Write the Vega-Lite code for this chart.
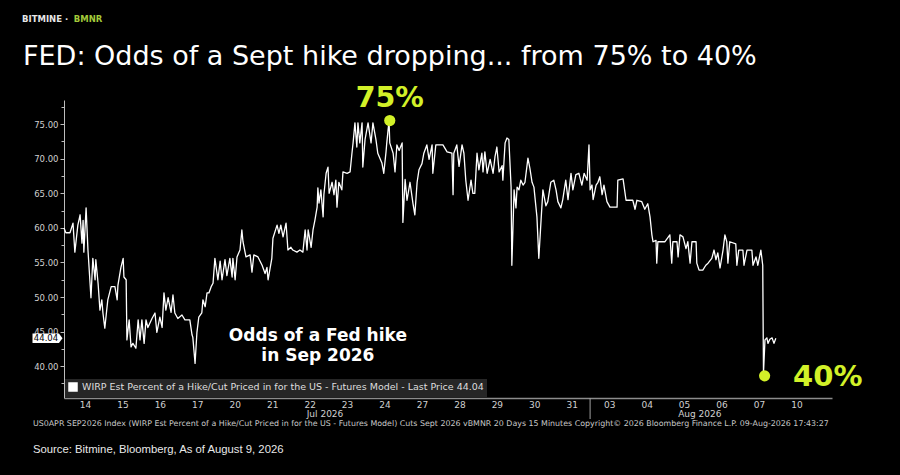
{
  "$schema": "https://vega.github.io/schema/vega-lite/v6.json",
  "autosize": {"type": "none"},
  "width": 768,
  "height": 298,
  "padding": {"left": 64, "top": 100, "right": 68, "bottom": 77},
  "background": "#000000",
  "config": {"view": {"stroke": null}},
  "title": {
    "text": "FED: Odds of a Sept hike dropping... from 75% to 40%",
    "anchor": "start",
    "frame": "group",
    "font": "DejaVu Sans",
    "fontSize": 27,
    "fontWeight": "normal",
    "color": "#ffffff",
    "baseline": "alphabetic",
    "offset": 0,
    "dx": -41,
    "dy": 77
  },
  "resolve": {"axis": {"y": "independent"}},
  "layer": [
    {
      "layer": [
        {
          "data": {"values": [
            {"t":0.00,"v":60.0},{"t":0.05,"v":59.3},{"t":0.16,"v":59.3},{"t":0.24,"v":60.7},{"t":0.29,"v":56.5},
            {"t":0.37,"v":60.4},{"t":0.43,"v":61.9},{"t":0.48,"v":57.8},{"t":0.51,"v":61.1},{"t":0.53,"v":56.5},
            {"t":0.59,"v":62.9},{"t":0.64,"v":56.8},{"t":0.69,"v":52.5},{"t":0.72,"v":49.9},{"t":0.77,"v":55.6},
            {"t":0.83,"v":52.5},{"t":0.85,"v":55.4},{"t":0.91,"v":52.0},{"t":0.96,"v":48.1},{"t":1.01,"v":49.6},
            {"t":1.04,"v":47.7},{"t":1.09,"v":45.5},{"t":1.15,"v":48.6},{"t":1.17,"v":49.6},{"t":1.26,"v":51.5},
            {"t":1.36,"v":51.5},{"t":1.42,"v":49.6},{"t":1.44,"v":51.7},{"t":1.52,"v":54.3},{"t":1.58,"v":55.6},
            {"t":1.60,"v":52.9},{"t":1.66,"v":52.5},{"t":1.68,"v":43.8},{"t":1.74,"v":46.7},{"t":1.79,"v":42.8},
            {"t":1.84,"v":43.3},{"t":1.92,"v":42.6},{"t":1.98,"v":46.7},{"t":2.03,"v":43.8},{"t":2.08,"v":46.7},
            {"t":2.14,"v":43.3},{"t":2.19,"v":46.7},{"t":2.24,"v":45.6},{"t":2.35,"v":46.9},{"t":2.43,"v":47.7},
            {"t":2.48,"v":44.9},{"t":2.56,"v":47.1},{"t":2.62,"v":45.6},{"t":2.67,"v":50.6},{"t":2.72,"v":48.1},
            {"t":2.78,"v":49.9},{"t":2.86,"v":47.8},{"t":2.91,"v":50.3},{"t":2.96,"v":47.7},{"t":3.04,"v":46.9},
            {"t":3.15,"v":47.4},{"t":3.23,"v":46.7},{"t":3.36,"v":46.7},{"t":3.42,"v":44.5},{"t":3.44,"v":44.2},
            {"t":3.50,"v":40.4},{"t":3.55,"v":44.9},{"t":3.60,"v":47.1},{"t":3.68,"v":47.7},{"t":3.71,"v":49.6},
            {"t":3.77,"v":48.6},{"t":3.82,"v":50.6},{"t":3.87,"v":50.6},{"t":3.93,"v":51.5},{"t":3.98,"v":52.0},
            {"t":4.03,"v":55.6},{"t":4.11,"v":52.5},{"t":4.17,"v":55.2},{"t":4.22,"v":52.5},{"t":4.30,"v":55.4},
            {"t":4.35,"v":53.1},{"t":4.43,"v":55.6},{"t":4.49,"v":52.9},{"t":4.51,"v":55.6},{"t":4.57,"v":52.5},
            {"t":4.62,"v":55.8},{"t":4.70,"v":56.8},{"t":4.75,"v":59.7},{"t":4.78,"v":58.0},{"t":4.86,"v":55.8},
            {"t":4.97,"v":56.1},{"t":5.02,"v":53.6},{"t":5.07,"v":56.1},{"t":5.18,"v":55.8},{"t":5.29,"v":54.6},
            {"t":5.37,"v":53.4},{"t":5.42,"v":54.3},{"t":5.45,"v":52.5},{"t":5.55,"v":55.6},{"t":5.58,"v":58.5},
            {"t":5.69,"v":60.4},{"t":5.74,"v":59.2},{"t":5.79,"v":60.4},{"t":5.85,"v":58.7},{"t":5.93,"v":60.7},
            {"t":5.98,"v":56.8},{"t":6.06,"v":57.2},{"t":6.11,"v":56.8},{"t":6.22,"v":56.5},{"t":6.30,"v":56.8},
            {"t":6.38,"v":56.5},{"t":6.44,"v":59.7},{"t":6.49,"v":56.8},{"t":6.52,"v":59.7},{"t":6.60,"v":57.2},
            {"t":6.65,"v":59.7},{"t":6.70,"v":61.1},{"t":6.76,"v":63.0},{"t":6.78,"v":65.8},{"t":6.81,"v":63.6},
            {"t":6.86,"v":65.5},{"t":6.92,"v":61.6},{"t":6.94,"v":64.8},{"t":7.00,"v":67.9},{"t":7.05,"v":68.8},
            {"t":7.08,"v":65.0},{"t":7.16,"v":66.6},{"t":7.21,"v":64.8},{"t":7.26,"v":66.9},{"t":7.29,"v":63.0},
            {"t":7.34,"v":66.6},{"t":7.42,"v":65.5},{"t":7.45,"v":68.1},{"t":7.56,"v":67.9},{"t":7.64,"v":68.1},
            {"t":7.69,"v":70.8},{"t":7.72,"v":72.3},{"t":7.77,"v":75.2},{"t":7.82,"v":71.7},{"t":7.85,"v":75.2},
            {"t":7.90,"v":72.3},{"t":7.96,"v":75.2},{"t":7.98,"v":68.8},{"t":8.04,"v":72.8},{"t":8.12,"v":75.2},
            {"t":8.20,"v":72.3},{"t":8.25,"v":75.2},{"t":8.33,"v":72.8},{"t":8.38,"v":70.8},{"t":8.49,"v":69.4},
            {"t":8.54,"v":67.9},{"t":8.60,"v":71.0},{"t":8.62,"v":72.3},{"t":8.68,"v":75.5},{"t":8.70,"v":72.3},
            {"t":8.79,"v":70.8},{"t":8.84,"v":68.1},{"t":8.89,"v":72.0},{"t":8.95,"v":71.2},{"t":9.03,"v":72.3},
            {"t":9.05,"v":60.8},{"t":9.11,"v":67.0},{"t":9.16,"v":64.0},{"t":9.24,"v":66.6},{"t":9.32,"v":63.5},
            {"t":9.37,"v":61.9},{"t":9.43,"v":66.6},{"t":9.48,"v":68.4},{"t":9.56,"v":69.3},{"t":9.61,"v":70.8},
            {"t":9.69,"v":72.0},{"t":9.75,"v":69.9},{"t":9.83,"v":72.0},{"t":9.85,"v":67.9},{"t":9.93,"v":72.0},
            {"t":10.12,"v":72.0},{"t":10.23,"v":71.0},{"t":10.36,"v":70.8},{"t":10.39,"v":64.8},{"t":10.41,"v":70.8},
            {"t":10.49,"v":72.0},{"t":10.55,"v":68.9},{"t":10.63,"v":72.0},{"t":10.68,"v":70.8},{"t":10.73,"v":66.9},
            {"t":10.79,"v":64.0},{"t":10.87,"v":66.9},{"t":10.92,"v":65.0},{"t":10.97,"v":65.0},{"t":11.03,"v":70.8},
            {"t":11.08,"v":68.4},{"t":11.16,"v":70.8},{"t":11.19,"v":68.1},{"t":11.24,"v":71.0},{"t":11.30,"v":67.9},
            {"t":11.38,"v":69.9},{"t":11.46,"v":67.9},{"t":11.51,"v":70.3},{"t":11.56,"v":71.7},{"t":11.62,"v":68.1},
            {"t":11.70,"v":69.0},{"t":11.72,"v":66.9},{"t":11.78,"v":72.3},{"t":11.83,"v":73.0},{"t":11.88,"v":72.8},
            {"t":11.94,"v":65.9},{"t":11.96,"v":54.6},{"t":12.02,"v":65.5},{"t":12.07,"v":62.9},{"t":12.10,"v":65.9},
            {"t":12.15,"v":65.5},{"t":12.20,"v":66.9},{"t":12.26,"v":66.2},{"t":12.31,"v":66.6},{"t":12.39,"v":70.1},
            {"t":12.44,"v":68.7},{"t":12.50,"v":66.6},{"t":12.55,"v":65.9},{"t":12.63,"v":61.6},{"t":12.68,"v":55.6},
            {"t":12.76,"v":62.9},{"t":12.79,"v":65.5},{"t":12.87,"v":63.2},{"t":12.92,"v":63.8},{"t":13.00,"v":66.6},
            {"t":13.08,"v":66.9},{"t":13.14,"v":65.5},{"t":13.19,"v":63.8},{"t":13.27,"v":62.9},{"t":13.32,"v":64.1},
            {"t":13.40,"v":66.9},{"t":13.46,"v":64.1},{"t":13.54,"v":67.9},{"t":13.59,"v":65.5},{"t":13.67,"v":67.7},
            {"t":13.75,"v":67.9},{"t":13.83,"v":66.2},{"t":13.89,"v":67.9},{"t":13.97,"v":66.9},{"t":14.02,"v":72.0},
            {"t":14.05,"v":65.5},{"t":14.10,"v":66.2},{"t":14.13,"v":64.1},{"t":14.21,"v":66.2},{"t":14.26,"v":66.6},
            {"t":14.31,"v":67.4},{"t":14.37,"v":64.8},{"t":14.42,"v":66.2},{"t":14.50,"v":63.8},{"t":14.58,"v":63.0},
            {"t":14.77,"v":63.0},{"t":14.79,"v":66.9},{"t":14.93,"v":67.1},{"t":15.01,"v":64.0},{"t":15.19,"v":64.0},
            {"t":15.25,"v":62.7},{"t":15.30,"v":64.0},{"t":15.43,"v":63.8},{"t":15.51,"v":62.7},{"t":15.59,"v":63.5},
            {"t":15.65,"v":61.6},{"t":15.70,"v":59.0},{"t":15.73,"v":58.0},{"t":15.81,"v":58.2},{"t":15.83,"v":54.9},
            {"t":15.86,"v":58.0},{"t":16.05,"v":58.0},{"t":16.18,"v":59.0},{"t":16.23,"v":54.9},{"t":16.26,"v":58.0},
            {"t":16.37,"v":58.0},{"t":16.40,"v":55.8},{"t":16.45,"v":59.0},{"t":16.53,"v":58.7},{"t":16.61,"v":57.0},
            {"t":16.66,"v":58.0},{"t":16.72,"v":54.9},{"t":16.77,"v":58.0},{"t":16.88,"v":58.0},{"t":16.90,"v":54.9},
            {"t":16.96,"v":53.9},{"t":17.06,"v":53.9},{"t":17.14,"v":54.6},{"t":17.20,"v":54.9},{"t":17.30,"v":55.6},
            {"t":17.36,"v":56.8},{"t":17.41,"v":55.4},{"t":17.46,"v":56.4},{"t":17.52,"v":54.2},{"t":17.60,"v":56.8},
            {"t":17.65,"v":59.0},{"t":17.70,"v":58.0},{"t":17.73,"v":54.9},{"t":17.78,"v":58.0},{"t":17.94,"v":57.7},
            {"t":17.97,"v":54.6},{"t":18.02,"v":56.8},{"t":18.13,"v":56.8},{"t":18.16,"v":54.6},{"t":18.24,"v":56.8},
            {"t":18.37,"v":56.8},{"t":18.40,"v":54.6},{"t":18.48,"v":55.8},{"t":18.53,"v":54.6},{"t":18.61,"v":56.8},
            {"t":18.66,"v":54.6},{"t":18.68,"v":39.0},{"t":18.72,"v":43.8},{"t":18.77,"v":44.1},{"t":18.80,"v":43.3},
            {"t":18.85,"v":43.9},{"t":18.91,"v":44.1},{"t":18.96,"v":43.3},{"t":19.01,"v":44.04}
          ]},
          "mark": {"type": "line", "strokeWidth": 1.3, "strokeJoin": "round", "interpolate": "linear"},
          "encoding": {
            "x": {
              "field": "t", "type": "quantitative",
              "scale": {"domain": [0, 20.51], "nice": false, "zero": false},
              "axis": {
                "title": null,
                "values": [0.56,1.56,2.56,3.56,4.56,5.56,6.56,7.56,8.56,9.56,10.56,11.56,12.56,13.56,14.56,15.56,16.56,17.56,18.56,19.56],
                "labelExpr": "['14','15','16','17','20','21','22','23','24','27','28','29','30','31','03','04','05','06','07','10'][round(datum.value - 0.56)]",
                "ticks": false, "grid": false,
                "domainColor": "#8c8c8c", "domainWidth": 1.5,
                "labelColor": "#d0d0d0", "labelFont": "DejaVu Sans", "labelFontSize": 9,
                "labelPadding": 2, "labelFlush": false, "labelOverlap": false
              }
            },
            "y": {
              "field": "v", "type": "quantitative",
              "scale": {"domain": [35.4, 78.5], "nice": false, "zero": false},
              "axis": {
                "title": null,
                "orient": "left",
                "values": [40, 45, 50, 55, 60, 65, 70, 75],
                "format": ".2f",
                "grid": false,
                "tickColor": "#bdbdbd", "tickSize": 4, "tickWidth": 1,
                "domainColor": "#bdbdbd", "domainWidth": 1,
                "labelColor": "#d0d0d0", "labelFont": "DejaVu Sans", "labelFontSize": 8.5,
                "labelPadding": 2, "labelOverlap": false, "labelFlush": false
              }
            },
            "color": {
              "datum": "WIRP Est Percent of a Hike/Cut Priced in for the US - Futures Model - Last Price 44.04",
              "scale": {"range": ["#ffffff"]},
              "legend": {
                "title": null,
                "orient": "bottom-left",
                "offset": 1,
                "padding": 3,
                "fillColor": "#262626",
                "symbolType": "square",
                "symbolSize": 64,
                "symbolFillColor": "#ffffff",
                "symbolStrokeColor": "#ffffff",
                "labelColor": "#dedede",
                "labelFont": "DejaVu Sans",
                "labelFontSize": 9.5,
                "labelLimit": 600,
                "labelOffset": 4
              }
            }
          }
        },
        {
          "data": {"values": [{}]},
          "mark": {"type": "rule", "color": "#a0a0a0", "strokeWidth": 1},
          "encoding": {"x": {"datum": 14.05}, "y": {"datum": 35.4}, "y2": {"datum": 32.36}}
        },
        {
          "data": {"values": [{}]},
          "mark": {"type": "point", "shape": "M-1,-0.32L0.76,-0.32L1,0L0.76,0.32L-1,0.32Z", "size": 900, "filled": true, "color": "#ffffff", "opacity": 1},
          "encoding": {"x": {"datum": -0.44}, "y": {"datum": 44.04}}
        },
        {
          "data": {"values": [{}]},
          "mark": {"type": "point", "shape": "circle", "size": 125, "filled": true, "color": "#d2f128", "opacity": 1},
          "encoding": {"x": {"datum": 8.70}, "y": {"datum": 75.53}}
        },
        {
          "data": {"values": [{}]},
          "mark": {"type": "point", "shape": "circle", "size": 125, "filled": true, "color": "#d2f128", "opacity": 1},
          "encoding": {"x": {"datum": 18.71}, "y": {"datum": 38.6}}
        },
        {
          "data": {"values": [{}]},
          "mark": {"type": "text", "font": "DejaVu Sans", "fontSize": 28.5, "fontWeight": "bold", "color": "#d2f128", "align": "center", "baseline": "alphabetic"},
          "encoding": {"x": {"datum": 8.70}, "y": {"datum": 77.49}, "text": {"value": "75%"}}
        },
        {
          "data": {"values": [{}]},
          "mark": {"type": "text", "font": "DejaVu Sans", "fontSize": 29, "fontWeight": "bold", "color": "#d2f128", "align": "left", "baseline": "alphabetic"},
          "encoding": {"x": {"datum": 19.47}, "y": {"datum": 37.13}, "text": {"value": "40%"}}
        },
        {
          "data": {"values": [{}]},
          "mark": {"type": "text", "font": "DejaVu Sans", "fontSize": 17, "fontWeight": "bold", "color": "#ffffff", "align": "center", "baseline": "middle", "lineHeight": 20},
          "encoding": {"x": {"datum": 6.78}, "y": {"datum": 44.35}, "text": {"value": ["Odds of a Fed hike", "in Sep 2026"]}}
        },
        {
          "data": {"values": [{}]},
          "mark": {"type": "text", "font": "DejaVu Sans", "fontSize": 9, "color": "#d0d0d0", "align": "center", "baseline": "middle"},
          "encoding": {"x": {"datum": 6.97}, "y": {"datum": 33.08}, "text": {"value": "Jul 2026"}}
        },
        {
          "data": {"values": [{}]},
          "mark": {"type": "text", "font": "DejaVu Sans", "fontSize": 9, "color": "#d0d0d0", "align": "center", "baseline": "middle"},
          "encoding": {"x": {"datum": 16.98}, "y": {"datum": 33.08}, "text": {"value": "Aug 2026"}}
        },
        {
          "data": {"values": [{}]},
          "mark": {"type": "text", "font": "DejaVu Sans", "fontSize": 7.9, "color": "#c8c8c8", "align": "left", "baseline": "middle"},
          "encoding": {"x": {"datum": -0.83}, "y": {"datum": 31.64}, "text": {"value": "US0APR SEP2026 Index (WIRP Est Percent of a Hike/Cut Priced in for the US - Futures Model) Cuts Sept 2026 vBMNR 20 Days 15 Minutes  Copyright© 2026 Bloomberg Finance L.P. 09-Aug-2026 17:43:27"}}
        },
        {
          "data": {"values": [{}]},
          "mark": {"type": "text", "font": "Liberation Sans", "fontSize": 11.3, "color": "#e8e8e8", "align": "left", "baseline": "middle"},
          "encoding": {"x": {"datum": -0.83}, "y": {"datum": 27.88}, "text": {"value": "Source: Bitmine, Bloomberg, As of August 9, 2026"}}
        },
        {
          "data": {"values": [{}]},
          "mark": {"type": "text", "font": "DejaVu Sans", "fontSize": 8.5, "fontWeight": "bold", "color": "#e6e6e6", "align": "left", "baseline": "middle"},
          "encoding": {"x": {"datum": -1.12}, "y": {"datum": 90.22}, "text": {"value": "BITMINE ·"}}
        },
        {
          "data": {"values": [{}]},
          "mark": {"type": "text", "font": "DejaVu Sans", "fontSize": 8.5, "fontWeight": "bold", "color": "#a2c93a", "align": "left", "baseline": "middle"},
          "encoding": {"x": {"datum": 0.26}, "y": {"datum": 90.22}, "text": {"value": "BMNR"}}
        }
      ]
    },
    {
      "data": {"values": [{}]},
      "mark": {"type": "text", "font": "DejaVu Sans", "fontSize": 8.5, "color": "#000000", "align": "center", "baseline": "middle"},
      "encoding": {
        "x": {"datum": -0.48},
        "y": {
          "datum": 44.04,
          "axis": {
            "orient": "left",
            "title": null,
            "values": [37.5, 42.5, 47.5, 52.5, 57.5, 62.5, 67.5, 72.5, 77.5],
            "labels": false,
            "domain": false,
            "grid": false,
            "tickColor": "#bdbdbd", "tickSize": 3, "tickWidth": 1
          }
        },
        "text": {"value": "44.04"}
      }
    }
  ]
}
